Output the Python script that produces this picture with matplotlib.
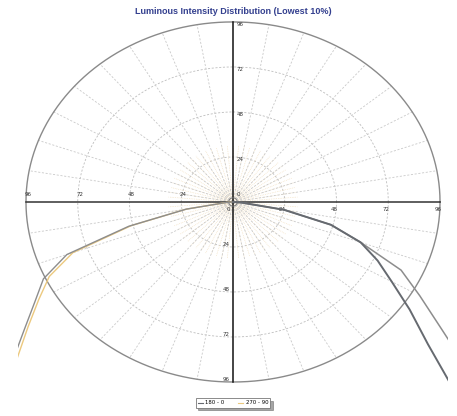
import numpy as np
import matplotlib
matplotlib.use("Agg")
import matplotlib.pyplot as plt
from matplotlib.lines import Line2D

# ---- data ----
gamma_deg = [90, 85, 80, 75, 70, 65, 60, 55, 50, 45]       # angle from nadir
c180 = [0, 3, 22, 50, 82, 97, 106, 118, 134, 160]           # left half, series "180 - 0"
c0 = [0, 4, 24, 47, 63, 86, 100, 118, 145, 170]             # right half, series "180 - 0"
c270 = [0, 3, 22, 49, 79, 94, 104, 116, 131, None]          # left half, series "270 - 90"
c90 = [0, 4, 24, 47, 63, 74, 85, 100, 118, 148]             # right half, series "270 - 90"
ring_values = [24, 48, 72, 96]
ring_labels = ["24", "48", "72", "96"]
series_names = ["180 - 0", "270 - 90"]
title = "Luminous Intensity Distribution (Lowest 10%)"

RMAX = 96
W, H = 457, 416
fig = plt.figure(figsize=(W / 100, H / 100), dpi=100)
fig.patch.set_facecolor("white")

# axes rectangle in pixels: x 18..448, y 18..388 (from top)
ax = fig.add_axes([18 / W, (H - 388) / H, 430 / W, 370 / H])
ax.set_xlim(-99.7, 99.7)
ax.set_ylim(-99.2, 98.1)
ax.axis("off")

# ---- grid ----
t = np.linspace(0, 2 * np.pi, 721)
for r in ring_values[:-1]:
    ax.plot(r * np.cos(t), r * np.sin(t), color="#bdbdbd", lw=0.6,
            ls=(0, (2.5, 2)), zorder=1)
ax.plot(RMAX * np.cos(t), RMAX * np.sin(t), color="#8a8a8a", lw=1.0, zorder=2)

# minor radial lines (light orange dotted)
for a in np.arange(0, 360, 5):
    ar = np.deg2rad(a)
    ax.plot([0, 30 * np.cos(ar)], [0, 30 * np.sin(ar)], color="#f1dcb8",
            lw=0.5, ls=(0, (1, 1.5)), zorder=1)
# major radial lines (gray dashed)
for a in np.arange(0, 360, 10):
    if a % 90 == 0:
        continue
    ar = np.deg2rad(a)
    ax.plot([0, RMAX * np.cos(ar)], [0, RMAX * np.sin(ar)], color="#c9c9c9",
            lw=0.6, ls=(0, (2.5, 2)), zorder=1)

# main axes
ax.plot([-RMAX, RMAX], [0, 0], color="#333333", lw=1.1, zorder=3)
ax.plot([0, 0], [-RMAX, RMAX], color="#111111", lw=1.1, zorder=3)
ax.plot(2 * np.cos(t), 2.2 * np.sin(t), color="#777777", lw=0.6, zorder=4)

# tick labels
fs = 4
for v, lab in zip(ring_values, ring_labels):
    ax.text(-v + 1, 2.5, lab, fontsize=fs, ha="center", va="bottom", color="#333333")
    ax.text(v - 1, -2.5, lab, fontsize=fs, ha="center", va="top", color="#333333")
    ax.text(1.5, v - 1.5, lab, fontsize=fs, ha="left", va="center", color="#333333")
    ax.text(-1.5, -v + 1.5, lab, fontsize=fs, ha="right", va="center", color="#333333")
ax.text(1.5, 2.5, "0", fontsize=fs, ha="left", va="bottom", color="#333333")
ax.text(-1.5, -2.5, "0", fontsize=fs, ha="right", va="top", color="#333333")

# ---- curves ----
def xy(vals, side):
    pairs = [(gd, v) for gd, v in zip(gamma_deg, vals) if v is not None]
    gg = np.deg2rad(np.array([p[0] for p in pairs], dtype=float))
    v = np.array([p[1] for p in pairs], dtype=float)
    return side * v * np.sin(gg), -v * np.cos(gg)

x, y = xy(c270, -1)
ax.plot(x, y, color="#ecc97f", lw=1.0, zorder=5)
x, y = xy(c180, -1)
ax.plot(x, y, color="#8d8d8d", lw=1.0, zorder=5)
x, y = xy(c0, 1)
ax.plot(x, y, color="#8d8d8d", lw=1.1, zorder=5)
x, y = xy(c90, 1)
ax.plot(x, y, color="#666a70", lw=1.4, zorder=6)

# title
fig.text(233 / W, 1 - 12 / H, title, ha="center", va="center", fontsize=6.5,
         fontweight="bold", color="#34408f", family="Liberation Sans")

# legend
handles = [Line2D([], [], color="#666a70", lw=0.8),
           Line2D([], [], color="#ecc97f", lw=0.8)]
leg = fig.legend(handles, series_names, loc="center",
                 bbox_to_anchor=(233 / W, 1 - 403 / H), ncol=2, fontsize=3.9,
                 frameon=True, fancybox=False, shadow=True, handlelength=1.0,
                 handletextpad=0.4, columnspacing=2.5, borderpad=0.4)
leg.get_frame().set_edgecolor("#777777")
leg.get_frame().set_linewidth(0.6)

fig.savefig("out.png", dpi=100, facecolor="white")
